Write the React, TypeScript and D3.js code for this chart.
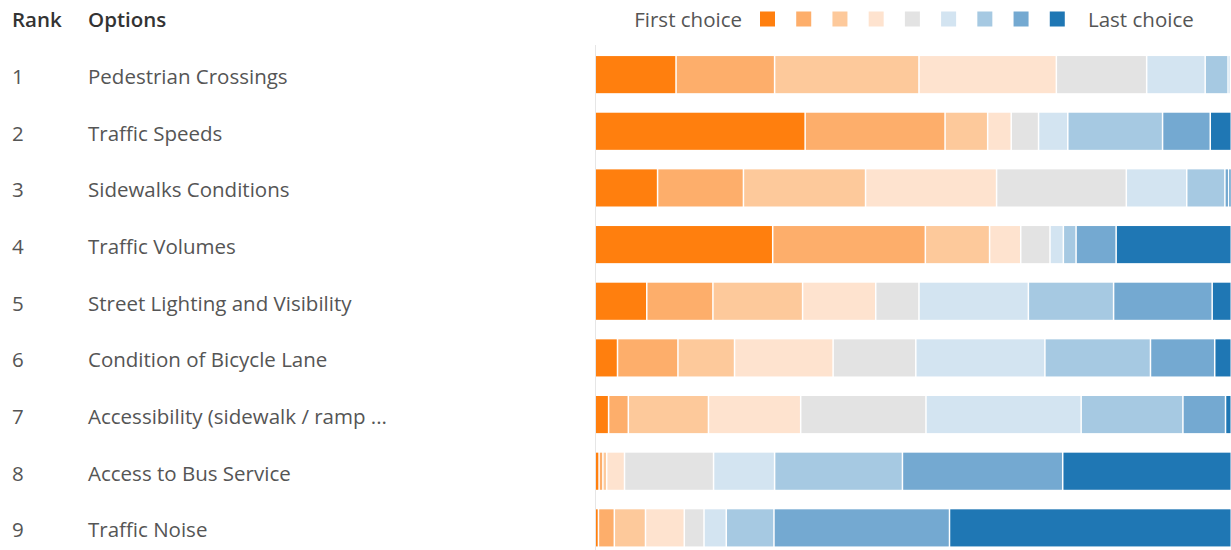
import React from "react";
import * as d3 from "d3";

const ranks = ["1", "2", "3", "4", "5", "6", "7", "8", "9"];
const options = [
  "Pedestrian Crossings",
  "Traffic Speeds",
  "Sidewalks Conditions",
  "Traffic Volumes",
  "Street Lighting and Visibility",
  "Condition of Bicycle Lane",
  "Accessibility (sidewalk / ramp ...",
  "Access to Bus Service",
  "Traffic Noise",
];
const choiceKeys = ["c1", "c2", "c3", "c4", "c5", "c6", "c7", "c8", "c9"];
// percentage of respondents giving each choice position (first..last)
const pedestrianCrossings = [12.7, 15.5, 22.7, 21.6, 14.2, 9.2, 3.6, 0.3, 0.2];
const trafficSpeeds = [33.0, 22.0, 6.7, 3.7, 4.3, 4.6, 14.9, 7.5, 3.3];
const sidewalksConditions = [9.8, 13.5, 19.2, 20.6, 20.4, 9.5, 6.0, 0.6, 0.4];
const trafficVolumes = [27.9, 24.0, 10.1, 4.9, 4.6, 2.1, 2.0, 6.3, 18.1];
const streetLighting = [8.1, 10.4, 14.1, 11.5, 6.8, 17.2, 13.4, 15.5, 3.0];
const bicycleLane = [3.5, 9.5, 8.9, 15.5, 13.0, 20.3, 16.6, 10.1, 2.6];
const accessibility = [2.1, 3.1, 12.6, 14.5, 19.7, 24.4, 16.0, 6.7, 0.9];
const busService = [0.6, 0.6, 0.6, 2.8, 14.0, 9.6, 20.1, 25.2, 26.5];
const trafficNoise = [0.5, 2.5, 4.9, 6.1, 3.1, 3.5, 7.5, 27.6, 44.3];
const seriesValues = [
  pedestrianCrossings,
  trafficSpeeds,
  sidewalksConditions,
  trafficVolumes,
  streetLighting,
  bicycleLane,
  accessibility,
  busService,
  trafficNoise,
];
const colors = [
  "#ff7f0e",
  "#fdae6b",
  "#fdc99b",
  "#fee3cf",
  "#e3e3e3",
  "#d3e4f1",
  "#a6c9e2",
  "#74a9d1",
  "#1f77b4",
];

const W = 1231;
const H = 550;
const FONT = "'Open Sans', 'Noto Sans', sans-serif";

export default function App() {
  const rows = options.map((o, i) => {
    const r: any = { option: o };
    choiceKeys.forEach((k, j) => (r[k] = seriesValues[i][j]));
    return r;
  });
  const stacked = d3.stack().keys(choiceKeys)(rows);
  const x = d3.scaleLinear().domain([0, 100]).range([596, 1232]);
  const y = d3
    .scaleBand()
    .domain(options)
    .range([47, 47 + 56.5 * 9])
    .paddingInner(0.345)
    .paddingOuter(0.16);
  const legendX = d3.scaleBand().domain(choiceKeys).range([760, 1086]);

  return (
    <div style={{ position: "absolute", left: 0, top: 0, width: W, height: H, overflow: "hidden" }}>
      <svg width={W} height={H} style={{ display: "block", fontFamily: FONT }}>
        <rect width={W} height={H} fill="#fff" />
        <text x={12} y={27} fontSize={20.5} fontWeight={600} fill="#333">
          Rank
        </text>
        <text x={88} y={27} fontSize={20.5} fontWeight={600} fill="#333">
          Options
        </text>
        <line x1={595.5} x2={595.5} y1={45} y2={H} stroke="#e6e6e6" />
        {options.map((o, i) => {
          const cy = (y(o) as number) + y.bandwidth() / 2;
          return (
            <g key={o}>
              <text x={12} y={cy + 9.5} fontSize={20.5} fill="#555">
                {ranks[i]}
              </text>
              <text x={88} y={cy + 9.5} fontSize={20.5} fill="#555">
                {o}
              </text>
            </g>
          );
        })}
        {stacked.map((s, si) => (
          <g key={s.key} fill={colors[si]}>
            {s.map((d: any) => (
              <rect
                key={d.data.option}
                x={x(d[0])}
                y={y(d.data.option)}
                width={Math.max(0, x(d[1]) - x(d[0]) - 1.5)}
                height={y.bandwidth()}
              />
            ))}
          </g>
        ))}
        <text x={742} y={26.5} fontSize={20.5} fill="#555" textAnchor="end">
          First choice
        </text>
        {choiceKeys.map((k, i) => (
          <rect key={k} x={legendX(k)} y={11.5} width={15} height={15} fill={colors[i]} />
        ))}
        <text x={1088} y={26.5} fontSize={20.5} fill="#555">
          Last choice
        </text>
      </svg>
    </div>
  );
}
